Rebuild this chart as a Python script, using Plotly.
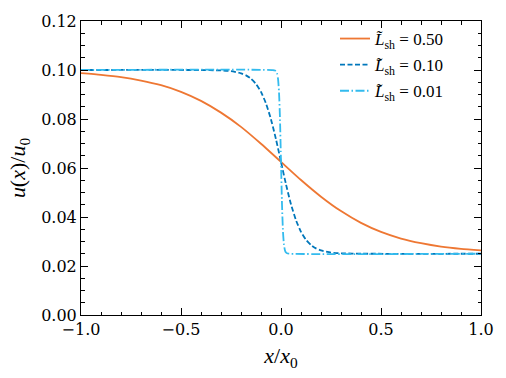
import plotly.graph_objects as go

# Perfis de choque: u(x)/u0 para tres larguras de choque
x_050 = [-1.0, -0.9, -0.8, -0.7, -0.6, -0.5, -0.4, -0.3, -0.2, -0.1, 0.0,
         0.1, 0.2, 0.3, 0.4, 0.5, 0.6, 0.7, 0.8, 0.9, 1.0]
u_050 = [0.0987, 0.0980, 0.0971, 0.0957, 0.0938, 0.0911, 0.0874, 0.0826, 0.0768, 0.0699, 0.0625,
         0.0551, 0.0483, 0.0424, 0.0376, 0.0339, 0.0312, 0.0293, 0.0279, 0.0270, 0.0264]

x_010 = [-1.0, -0.4, -0.3, -0.25, -0.2, -0.175, -0.15, -0.125, -0.1, -0.075, -0.05, -0.025, 0.0,
         0.025, 0.05, 0.075, 0.1, 0.125, 0.15, 0.175, 0.2, 0.25, 0.3, 0.4, 1.0]
u_010 = [0.1000, 0.09998, 0.09981, 0.09950, 0.09865, 0.09780, 0.09644, 0.09431, 0.09106, 0.08632, 0.07983, 0.07168, 0.0625,
         0.05332, 0.04517, 0.03868, 0.03394, 0.03069, 0.02856, 0.02720, 0.02635, 0.02550, 0.02519, 0.02502, 0.0250]

x_001 = [-1.0, -0.04, -0.03, -0.025, -0.02, -0.015, -0.01, -0.005, 0.0,
         0.005, 0.01, 0.015, 0.02, 0.025, 0.03, 0.04, 1.0]
u_001 = [0.1000, 0.09998, 0.09981, 0.09950, 0.09865, 0.09644, 0.09106, 0.07983, 0.0625,
         0.04517, 0.03394, 0.02856, 0.02635, 0.02550, 0.02519, 0.02502, 0.0250]

nomes = ["0.50", "0.10", "0.01"]
cores = ["#EE7733", "#0077BB", "#33BBEE"]
tracos = ["solid", "5px,2.5px", "9px,2.5px,1.5px,2.5px"]

fonte = "DejaVu Serif"          # numeros
fonte_mat = "Liberation Serif"  # texto matematico (italico)

fig = go.Figure()
for xs, us, nome, cor, traco in zip([x_050, x_010, x_001], [u_050, u_010, u_001], nomes, cores, tracos):
    fig.add_trace(go.Scatter(
        x=xs, y=us, mode="lines",
        name=f"<i>L&#771;</i><sub>sh</sub> = {nome}",
        legendgroup=nome,
        line=dict(color=cor, width=1.8, dash=traco, shape="spline", smoothing=0.6)
    ))

eixo = dict(
    showgrid=False, zeroline=False,
    showline=True, linecolor="black", linewidth=1, mirror="allticks",
    ticks="inside", ticklen=7, tickwidth=1, tickcolor="black",
    tickfont=dict(size=16, family=fonte, color="black"),
)

fig.update_xaxes(
    **eixo, range=[-1, 1], dtick=0.5, tickformat=".1f",
    minor=dict(ticks="inside", dtick=0.1, ticklen=3.5, tickcolor="black"),
    title=dict(text="<i>x</i>/<i>x</i><sub>0</sub>", font=dict(size=22, family=fonte_mat, color="black"), standoff=9),
)
fig.update_yaxes(
    **eixo, range=[0, 0.12], dtick=0.02, tickformat=".2f",
    minor=dict(ticks="inside", dtick=0.005, ticklen=3.5, tickcolor="black"),
    title=dict(text="<i>u</i>(<i>x</i>)/<i>u</i><sub>0</sub>", font=dict(size=22, family=fonte_mat, color="black"), standoff=9),
)

fig.update_layout(
    width=506, height=378,
    margin=dict(l=81, r=22, t=14, b=63),
    plot_bgcolor="white", paper_bgcolor="white",
    font=dict(family=fonte, color="black"),
    legend=dict(x=0.92, y=1.0, xanchor="right", yanchor="top", tracegroupgap=1,
                bgcolor="rgba(0,0,0,0)", font=dict(size=17, family=fonte_mat)),
)

fig.write_html("out.html", config={"displayModeBar": False},
               post_script="document.body.style.margin='0';")
